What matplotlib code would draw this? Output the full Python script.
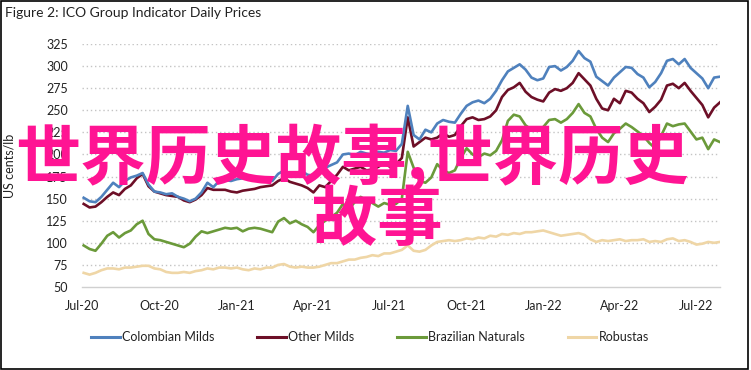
import matplotlib
matplotlib.use("Agg")
import matplotlib.pyplot as plt
from matplotlib.patches import Rectangle
import pandas as pd

# ---- data (weekly readings, US cents/lb) ----
start_date = "2020-07-03"
n_weeks = 109
colombian_milds = [151, 147, 146, 152, 160, 168, 163, 170, 174, 176, 179, 166, 158, 157, 155, 156, 152, 150, 147, 150,
                   157, 168, 163, 170, 171, 170, 172, 173, 174, 172, 173, 172, 170, 178, 182, 176, 179, 181, 177, 176,
                   180, 185, 188, 191, 200, 201, 199, 203, 201, 200, 203, 202, 205, 204, 212, 255, 222, 217, 228, 225,
                   235, 239, 237, 236, 246, 255, 259, 261, 258, 263, 272, 284, 294, 298, 302, 296, 287, 284, 286, 299,
                   300, 295, 299, 306, 317, 309, 305, 288, 283, 278, 287, 293, 299, 298, 291, 287, 276, 282, 292, 306,
                   308, 302, 308, 298, 292, 286, 275, 287, 288]
other_milds = [144, 140, 141, 146, 152, 157, 154, 161, 165, 173, 178, 164, 158, 156, 154, 153, 152, 148, 146, 149,
               154, 162, 160, 160, 160, 158, 157, 159, 160, 161, 163, 164, 165, 170, 173, 169, 167, 165, 162, 157,
               165, 163, 170, 177, 186, 182, 184, 186, 182, 183, 186, 190, 186, 189, 196, 242, 209, 214, 219, 217,
               219, 224, 220, 222, 232, 240, 242, 239, 240, 243, 250, 265, 273, 276, 281, 271, 265, 262, 260, 270,
               274, 272, 275, 281, 292, 285, 278, 263, 252, 250, 263, 258, 272, 270, 263, 258, 248, 254, 262, 278,
               280, 275, 281, 272, 264, 256, 242, 253, 259]
brazilian_naturals = [97, 93, 91, 99, 108, 112, 106, 111, 114, 121, 125, 110, 104, 103, 101, 99, 97, 95, 99, 107,
                      113, 111, 113, 115, 117, 116, 117, 113, 116, 117, 116, 114, 112, 124, 128, 122, 125, 121, 118, 112,
                      120, 125, 129, 134, 144, 138, 146, 152, 148, 145, 141, 145, 143, 144, 150, 203, 185, 170, 168, 174,
                      189, 182, 179, 182, 196, 207, 200, 197, 201, 199, 204, 216, 238, 245, 243, 233, 228, 229, 231, 239,
                      240, 236, 240, 247, 257, 247, 243, 229, 219, 214, 224, 229, 235, 231, 226, 221, 213, 207, 221, 235,
                      232, 234, 235, 226, 217, 219, 206, 217, 214]
robustas = [66, 64, 66, 69, 71, 71, 70, 72, 72, 73, 74, 74, 71, 70, 67, 66, 66, 67, 66, 68,
            69, 71, 70, 72, 72, 71, 72, 70, 69, 71, 70, 72, 72, 75, 76, 73, 72, 73, 72, 72,
            73, 75, 77, 77, 79, 81, 81, 83, 84, 86, 85, 88, 88, 90, 92, 97, 91, 90, 92, 97,
            101, 102, 103, 102, 103, 105, 104, 106, 105, 108, 107, 110, 109, 111, 110, 112, 112, 113, 114, 112,
            110, 108, 109, 110, 111, 109, 104, 101, 103, 102, 103, 104, 102, 103, 103, 104, 101, 102, 101, 104,
            105, 102, 103, 101, 98, 99, 101, 100, 101]

series_names = ["Colombian Milds", "Other Milds", "Brazilian Naturals", "Robustas"]
series_colors = ["#4f81bd", "#6d0f27", "#6b9a3a", "#efd6a6"]
y_ticks = [50, 75, 100, 125, 150, 175, 200, 225, 250, 275, 300, 325]
x_tick_dates = ["2020-07-01", "2020-10-01", "2021-01-01", "2021-04-01", "2021-07-01",
                "2021-10-01", "2022-01-01", "2022-04-01", "2022-07-01"]
x_tick_labels = ["Jul-20", "Oct-20", "Jan-21", "Apr-21", "Jul-21", "Oct-21", "Jan-22", "Apr-22", "Jul-22"]
title_text = "Figure 2: ICO Group Indicator Daily Prices"
y_label = "US cents/lb"
watermark_line1 = "世界历史故事,世界历史"
watermark_line2 = "故事"

dates = pd.date_range(start_date, periods=n_weeks, freq="7D")
values = [colombian_milds, other_milds, brazilian_naturals, robustas]

plt.rcParams["font.family"] = ["Lato", "DejaVu Sans"]

W, H = 751, 370
fig = plt.figure(figsize=(W / 100, H / 100), dpi=100)
ax = fig.add_axes([82 / W, 1 - 287 / H, (720 - 82) / W, (287 - 44) / H])

# draw robustas first so darker lines sit on top
order = [3, 2, 1, 0]
lines = {}
for i in order:
    (ln,) = ax.plot(dates, values[i], color=series_colors[i], lw=1.9, label=series_names[i],
                    solid_joinstyle="round")
    lines[i] = ln

ax.set_ylim(50, 325)
ax.set_xlim(pd.Timestamp("2020-07-01"), dates[-1])
ax.set_yticks(y_ticks)
ax.set_yticklabels([str(v) for v in y_ticks])
ax.set_xticks([pd.Timestamp(d) for d in x_tick_dates])
ax.set_xticklabels(x_tick_labels)
ax.tick_params(axis="both", length=0, labelsize=9, colors="#222222")
ax.tick_params(axis="y", pad=10)
ax.tick_params(axis="x", pad=9.5)

for v in y_ticks[1:]:
    ax.axhline(v, color="#c4c4c4", lw=1.0, ls=(0, (1, 2)), zorder=0)

for s in ["left", "top", "right"]:
    ax.spines[s].set_visible(False)
ax.spines["bottom"].set_color("#d0d0d0")
ax.spines["bottom"].set_linewidth(1.0)

ax.set_ylabel(y_label, fontsize=9, color="#222222")
ax.yaxis.set_label_coords(-(82 - 16) / (720 - 82), 0.5)

fig.text(5 / W, 1 - 13 / H, title_text, fontsize=10, color="#222222", ha="left", va="center")

leg = fig.legend([lines[i] for i in range(4)], series_names, loc="center", ncol=4,
                 bbox_to_anchor=(370 / W, 1 - 337 / H), frameon=False, fontsize=9,
                 handlelength=2.3, handletextpad=0.2, columnspacing=3.4)
for t in leg.get_texts():
    t.set_color("#222222")
for lh in leg.get_lines():
    lh.set_linewidth(2.2)

# border around the figure
fig.patches.append(Rectangle((0.5 / W, 1.5 / H), 747.5 / W, 367.5 / H, transform=fig.transFigure,
                             fill=False, edgecolor="black", lw=1.2, zorder=10))

# watermark overlay
wm_kw = dict(fontsize=47, color="#ff1493", ha="center", va="center", fontweight="bold",
             family=["Noto Sans CJK SC", "DejaVu Sans"], zorder=20)
fig.text(352 / W, 1 - 158 / H, watermark_line1, **wm_kw)
fig.text(377 / W, 1 - 220 / H, watermark_line2, **wm_kw)

fig.savefig("out.png", dpi=100)
